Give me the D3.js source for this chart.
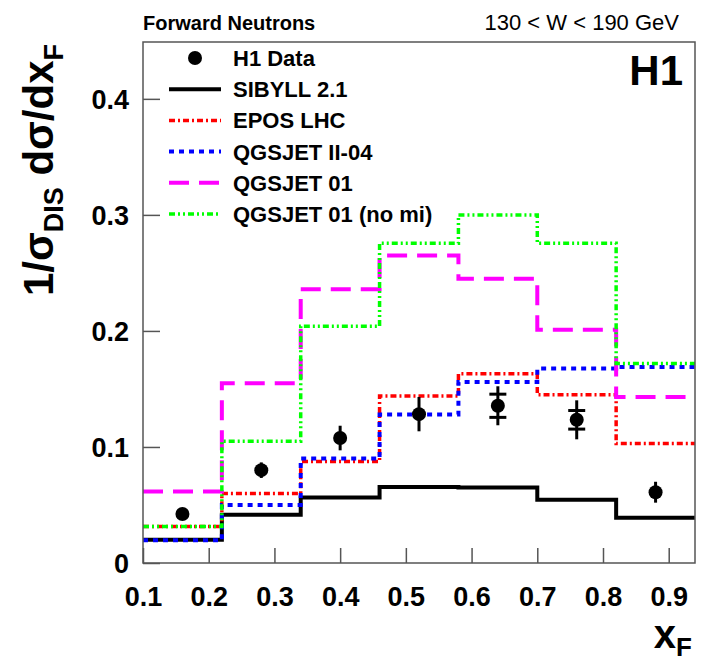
<!DOCTYPE html>
<html>
<head>
<meta charset="utf-8">
<script src="https://cdn.jsdelivr.net/npm/d3@7"></script>
<style>
  body { margin: 0; background: #fff; }
  text { font-family: "Liberation Sans", Arial, sans-serif; }
</style>
</head>
<body>
<script>
// bin edges in x_F and model predictions per bin
const binEdges = [0.1, 0.22, 0.34, 0.46, 0.58, 0.70, 0.82, 0.94]
const sibyll = [0.020, 0.0415, 0.0565, 0.0655, 0.065, 0.0545, 0.039]
const epos = [0.0315, 0.060, 0.0875, 0.144, 0.163, 0.145, 0.103]
const qgsjet2 = [0.0195, 0.050, 0.090, 0.128, 0.156, 0.1676, 0.169]
const qgsjet01 = [0.0617, 0.155, 0.236, 0.265, 0.245, 0.201, 0.143]
const qgsjet01nomi = [0.0315, 0.105, 0.204, 0.2756, 0.300, 0.2756, 0.172]

// H1 data points
const xfCenters = [0.16, 0.28, 0.40, 0.52, 0.64, 0.76, 0.88]
const h1Data = [0.0422, 0.080, 0.1077, 0.1283, 0.1355, 0.1234, 0.061]
const h1Err = [0.004, 0.0067, 0.0106, 0.0148, 0.0168, 0.0168, 0.009]
const h1Sys = [0, 0, 0, 0, 0.010, 0.008, 0]

const xTicks = [0.1, 0.2, 0.3, 0.4, 0.5, 0.6, 0.7, 0.8, 0.9]
const yTicks = [0, 0.1, 0.2, 0.3, 0.4]

const models = [
  {name: 'SIBYLL 2.1', values: sibyll, color: '#000000', width: 4, dash: null},
  {name: 'EPOS LHC', values: epos, color: '#ff0000', width: 3.5, dash: '6,3,2,3'},
  {name: 'QGSJET II-04', values: qgsjet2, color: '#0000ff', width: 4, dash: '5,5'},
  {name: 'QGSJET 01', values: qgsjet01, color: '#ff00ff', width: 4, dash: '20,10'},
  {name: 'QGSJET 01 (no mi)', values: qgsjet01nomi, color: '#00ff00', width: 3.5, dash: '6,3,2,3,2,3'}
]

const width = 710
const height = 662
const margin = {top: 42, right: 15, bottom: 99, left: 143}

const svg = d3.select('body').append('svg')
  .attr('width', width)
  .attr('height', height)

const xScale = d3.scaleLinear()
  .domain([0.1, 0.94])
  .range([margin.left, width - margin.right])

const yScale = d3.scaleLinear()
  .domain([0, 0.449])
  .range([height - margin.bottom, margin.top])

// axes, ticks pointing inward
const xAxis = d3.axisBottom(xScale)
  .tickValues(xTicks)
  .tickSize(-15)
  .tickPadding(24)
  .tickFormat(d3.format('.1f'))

const yAxis = d3.axisLeft(yScale)
  .tickValues(yTicks)
  .tickSize(-17)
  .tickPadding(14)
  .tickFormat(d => d === 0 ? '0' : d3.format('.1f')(d))

const gx = svg.append('g')
  .attr('transform', `translate(0,${height - margin.bottom})`)
  .call(xAxis)
const gy = svg.append('g')
  .attr('transform', `translate(${margin.left},0)`)
  .call(yAxis)

;[gx, gy].forEach(g => {
  g.select('.domain').remove()
  g.selectAll('.tick line').attr('stroke', '#555').attr('stroke-width', 1.5)
  g.selectAll('.tick text')
    .attr('fill', '#000')
    .style('font-size', '27px')
    .style('font-weight', 'bold')
})
gx.selectAll('.tick text').attr('dy', '0.71em')
gy.selectAll('.tick text').attr('dy', '0.36em')

// histograms
const line = d3.line()
  .x(d => xScale(d[0]))
  .y(d => yScale(d[1]))

function steps(values) {
  const pts = []
  values.forEach((v, i) => {
    pts.push([binEdges[i], v])
    pts.push([binEdges[i + 1], v])
  })
  return pts
}

const plot = svg.append('g')

plot.selectAll('path.model')
  .data(models)
  .enter()
  .append('path')
  .attr('class', 'model')
  .attr('d', d => line(steps(d.values)))
  .attr('fill', 'none')
  .attr('stroke', d => d.color)
  .attr('stroke-width', d => d.width)
  .attr('stroke-dasharray', d => d.dash)

// data points with error bars
const points = xfCenters.map((x, i) => ({x: x, y: h1Data[i], err: h1Err[i], sys: h1Sys[i]}))

plot.selectAll('line.err')
  .data(points)
  .enter()
  .append('line')
  .attr('class', 'err')
  .attr('x1', d => xScale(d.x))
  .attr('x2', d => xScale(d.x))
  .attr('y1', d => yScale(d.y - d.err))
  .attr('y2', d => yScale(d.y + d.err))
  .attr('stroke', '#000')
  .attr('stroke-width', 3)

const withSys = points.filter(d => d.sys > 0)
;[1, -1].forEach(s => {
  plot.selectAll(null)
    .data(withSys)
    .enter()
    .append('line')
    .attr('x1', d => xScale(d.x) - 8.5)
    .attr('x2', d => xScale(d.x) + 8.5)
    .attr('y1', d => yScale(d.y + s * d.sys))
    .attr('y2', d => yScale(d.y + s * d.sys))
    .attr('stroke', '#000')
    .attr('stroke-width', 3)
})

plot.selectAll('circle')
  .data(points)
  .enter()
  .append('circle')
  .attr('cx', d => xScale(d.x))
  .attr('cy', d => yScale(d.y))
  .attr('r', 7)
  .attr('fill', '#000')

// frame
svg.append('rect')
  .attr('x', margin.left)
  .attr('y', margin.top)
  .attr('width', width - margin.left - margin.right)
  .attr('height', height - margin.top - margin.bottom)
  .attr('fill', 'none')
  .attr('stroke', '#555')
  .attr('stroke-width', 1.5)

// legend
const legend = svg.append('g')
const rowY = i => 58 + i * 31.2

legend.append('circle')
  .attr('cx', 195)
  .attr('cy', rowY(0))
  .attr('r', 7)
  .attr('fill', '#000')

legend.selectAll('line')
  .data(models)
  .enter()
  .append('line')
  .attr('x1', 169)
  .attr('x2', 221)
  .attr('y1', (d, i) => rowY(i + 1))
  .attr('y2', (d, i) => rowY(i + 1))
  .attr('stroke', d => d.color)
  .attr('stroke-width', d => d.width)
  .attr('stroke-dasharray', d => d.dash)

legend.selectAll('text')
  .data(['H1 Data'].concat(models.map(d => d.name)))
  .enter()
  .append('text')
  .attr('x', 233)
  .attr('y', (d, i) => rowY(i))
  .attr('dy', '0.36em')
  .style('font-size', '22px')
  .style('font-weight', 'bold')
  .text(d => d)

// header texts
svg.append('text')
  .attr('x', 143)
  .attr('y', 30)
  .style('font-size', '20px')
  .style('font-weight', 'bold')
  .text('Forward Neutrons')

svg.append('text')
  .attr('x', 679)
  .attr('y', 30)
  .attr('text-anchor', 'end')
  .style('font-size', '22px')
  .text('130 < W < 190 GeV')

svg.append('text')
  .attr('x', 683)
  .attr('y', 85)
  .attr('text-anchor', 'end')
  .style('font-size', '42px')
  .style('font-weight', 'bold')
  .text('H1')

// axis titles
const xTitle = svg.append('text')
  .attr('x', 692)
  .attr('y', 648)
  .attr('text-anchor', 'end')
  .style('font-size', '40px')
  .style('font-weight', 'bold')
xTitle.append('tspan').text('x')
xTitle.append('tspan').attr('dy', 8).style('font-size', '26px').text('F')

const yTitle = svg.append('text')
  .attr('transform', 'translate(53,170) rotate(-90)')
  .attr('text-anchor', 'middle')
  .style('font-size', '42px')
  .style('font-weight', 'bold')
yTitle.append('tspan').text('1/σ')
yTitle.append('tspan').attr('dy', 10).style('font-size', '27px').text('DIS')
yTitle.append('tspan').attr('dy', -10).text(' dσ/dx')
yTitle.append('tspan').attr('dy', 10).style('font-size', '27px').text('F')
</script>
</body>
</html>
